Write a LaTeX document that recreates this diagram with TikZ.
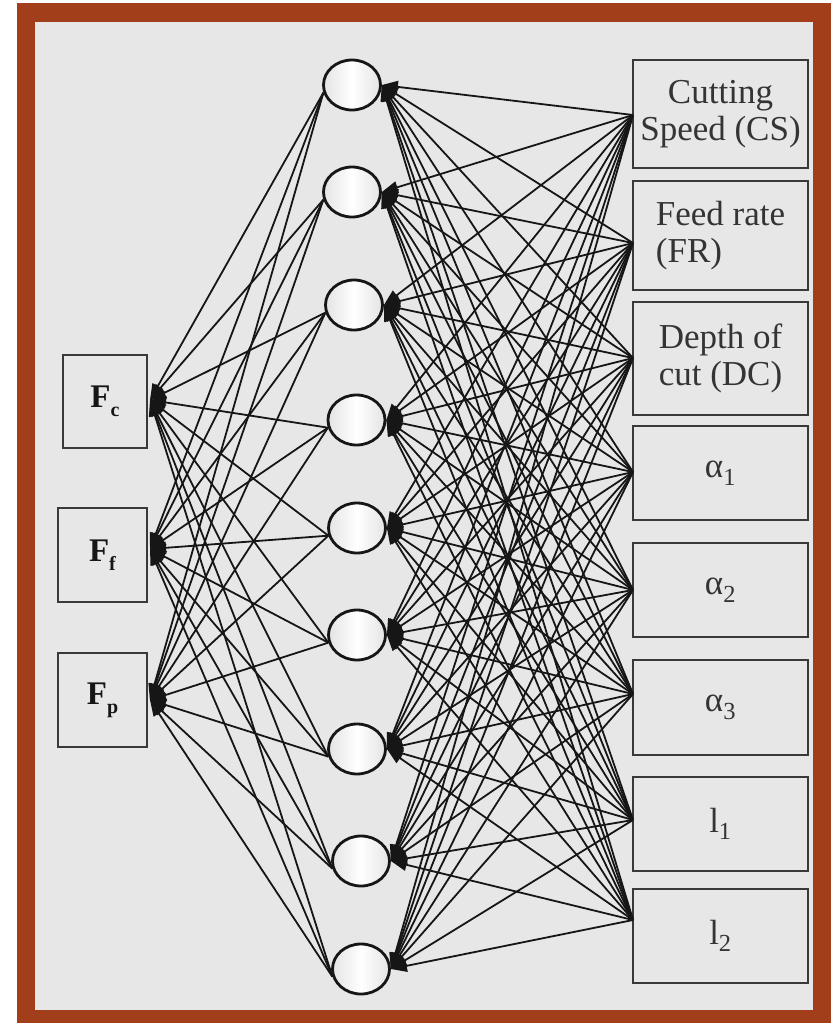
\documentclass[tikz,border=0pt]{standalone}
\usepackage{fontspec}
\setmainfont{Liberation Serif}
\usetikzlibrary{arrows.meta,shapes.geometric}
\definecolor{framebrown}{RGB}{163,62,26}
\definecolor{panel}{RGB}{231,231,231}
\definecolor{ink}{RGB}{22,22,22}
\definecolor{labelgray}{RGB}{52,52,52}
\definecolor{unitedge}{RGB}{200,200,200}
\pgfdeclarehorizontalshading{unitshade}{100bp}{color(0bp)=(unitedge);
  color(50bp)=(white); color(100bp)=(unitedge)}
\newcommand{\inlabel}[1]{\textbf{F}\raisebox{-0.28em}{\fontsize{20}{20}\selectfont\bfseries #1}}

\begin{document}
\begin{tikzpicture}[x=1pt,y=-1pt,
  box/.style={draw=ink!85, line width=1.7pt, fill=panel, inner sep=0pt,
    align=center, text=labelgray, font=\fontsize{35}{37}\selectfont},
  unit/.style={ellipse, draw=ink, line width=2.8pt, minimum width=57pt,
    minimum height=50pt, inner sep=0pt, shading=unitshade},
  wire/.style={draw=ink, line width=1.8pt},
  tip/.style={-{Triangle[length=16pt,width=12pt]}}
]
\useasboundingbox (0,0) rectangle (837,1023);

% page, frame and panel
\fill[white] (0,0) rectangle (837,1023);
\fill[framebrown] (17,3) rectangle (831,1030);
\fill[panel] (35,22) rectangle (813,1010);

% input layer
\node[box, minimum width=84pt, minimum height=93pt, text=ink, font=\fontsize{33}{36}\selectfont] (fc) at (105,401.5) {\inlabel{c}};
\node[box, minimum width=89pt, minimum height=94pt, text=ink, font=\fontsize{33}{36}\selectfont] (ff) at (102.5,555) {\inlabel{f}};
\node[box, minimum width=89pt, minimum height=94pt, text=ink, font=\fontsize{33}{36}\selectfont] (fp) at (102.5,700) {\inlabel{p}};
\coordinate (fc-p) at (150,400);
\coordinate (ff-p) at (150,549);
\coordinate (fp-p) at (150,700);

% hidden layer
\foreach \i/\x/\y in {1/352/85, 2/352/192, 3/354/305, 4/356.5/420, 5/357/528,
                      6/357/635, 7/357/749, 8/361/861, 9/361/969}
  \node[unit] (h\i) at (\x,\y) {};

% output layer
\node[box, minimum width=175pt, minimum height=108pt] (cs) at (720.5,114) {\raisebox{-4pt}{Cutting}\\\raisebox{-4pt}{Speed (CS)}};
\node[box, minimum width=175pt, minimum height=109pt, align=left] (fr) at (720.5,235.5) {Feed rate\hspace{0.4em}\\(FR)};
\node[box, minimum width=175pt, minimum height=113pt, align=left] (dc) at (720.5,358.5) {Depth of\hspace{0.3em}\\cut (DC)};
\node[box, minimum width=175pt, minimum height=94pt] (a1) at (720.5,473) {α\textsubscript{1}};
\node[box, minimum width=175pt, minimum height=94pt] (a2) at (720.5,590) {α\textsubscript{2}};
\node[box, minimum width=175pt, minimum height=95pt] (a3) at (720.5,707.5) {α\textsubscript{3}};
\node[box, minimum width=175pt, minimum height=94pt] (l1) at (720.5,824) {l\textsubscript{1}};
\node[box, minimum width=175pt, minimum height=94pt] (l2) at (720.5,936) {l\textsubscript{2}};
\coordinate (cs-p) at (633,115);
\coordinate (fr-p) at (633,243);
\coordinate (dc-p) at (633,358);
\coordinate (a1-p) at (633,472);
\coordinate (a2-p) at (633,590);
\coordinate (a3-p) at (633,694);
\coordinate (l1-p) at (633,820);
\coordinate (l2-p) at (633,920);

% connections: outputs to hidden units
\foreach \o in {cs,fr,dc,a1,a2,a3,l1,l2}
  \foreach \i in {1,...,9}
    \draw[wire,tip] (\o-p) -- (h\i.east);

% connections: hidden units to inputs
\foreach \n in {fc,ff,fp}
  \foreach \i in {1,...,9}
    \draw[wire,tip] (h\i.195) -- (\n-p);
\end{tikzpicture}
\end{document}
